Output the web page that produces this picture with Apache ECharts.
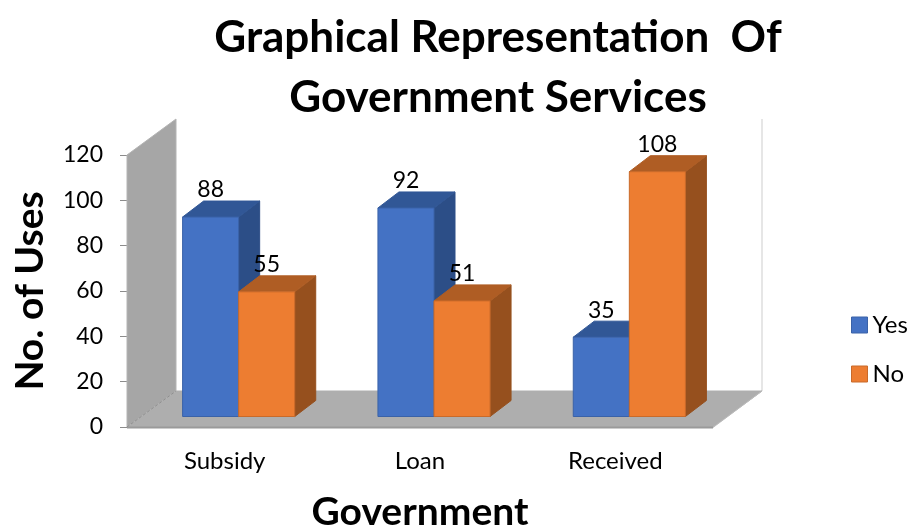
<!DOCTYPE html>
<html><head><meta charset="utf-8">
<style>html,body{margin:0;padding:0;background:#fff}#c{width:923px;height:526px}</style>
<script src="https://cdn.jsdelivr.net/npm/echarts@6/dist/echarts.min.js"></script>
</head><body><div id="c"></div>
<script>
const categories = ['Subsidy', 'Loan', 'Received'];
const yesValues = [88, 92, 35];
const noValues = [55, 51, 108];
const yTicks = { min: 0, max: 120, interval: 20 };
const FONT = 'Lato';
// 3D projection of the box: total depth, margin of bars from front, bar depth
const DEPTH = { x: 49, y: -36 };
const BAR_OFF = { x: 14, y: -10.5 };
const BAR_DEPTH = { x: 21, y: -16 };
const BAR_W_RATIO = 0.287;

function poly(points, fill, stroke, lw) {
  return { type: 'polygon', shape: { points }, style: { fill, stroke: stroke || fill, lineWidth: lw === undefined ? 1 : lw } };
}
function renderBox(params, api) {
  const cs = params.coordSys;
  const l = cs.x, r = cs.x + cs.width, t = cs.y, b = cs.y + cs.height;
  const dx = DEPTH.x, dy = DEPTH.y;
  return { type: 'group', children: [
    { type: 'line', shape: { x1: r + dx, y1: t + dy, x2: r + dx, y2: b + dy }, style: { stroke: '#E6E6E6', lineWidth: 2 } },
    poly([[l, b], [l + dx, b + dy], [r + dx, b + dy], [r, b]], '#AEAEAE', '#AEAEAE'),
    { type: 'line', shape: { x1: l, y1: b + 0.5, x2: r, y2: b + 0.5 }, style: { stroke: '#9A9A9A', lineWidth: 2 } },
    { type: 'line', shape: { x1: r, y1: b + 0.5, x2: r + dx, y2: b + dy }, style: { stroke: '#BDBDBD', lineWidth: 1 } },
    poly([[l, t], [l + dx, t + dy], [l + dx, b + dy], [l, b]], '#A6A6A6', '#B4B4B4'),
    { type: 'line', shape: { x1: l, y1: b, x2: l + dx, y2: b + dy }, style: { stroke: '#8E8E8E', lineWidth: 1, lineDash: [3, 2] } }
  ] };
}
function makeRender(side, colors) {
  return function (params, api) {
    const cat = api.value(0), val = api.value(1);
    const base = api.coord([cat, 0]);
    const top = api.coord([cat, val]);
    const w = api.size([1, 0])[0] * BAR_W_RATIO;
    const x0 = base[0] + BAR_OFF.x + (side === 0 ? -w : 0);
    const x1 = x0 + w;
    const yb = base[1] + BAR_OFF.y, yt = top[1] + BAR_OFF.y;
    const ddx = BAR_DEPTH.x, ddy = BAR_DEPTH.y;
    return { type: 'group', children: [
      poly([[x1, yt], [x1 + ddx, yt + ddy], [x1 + ddx, yb + ddy], [x1, yb]], colors.side, colors.side),
      poly([[x0, yt], [x0 + ddx, yt + ddy], [x1 + ddx, yt + ddy], [x1, yt]], colors.top, colors.top),
      { type: 'rect', shape: { x: x0, y: yt, width: w, height: yb - yt }, style: { fill: colors.front, stroke: colors.edge, lineWidth: 1 } },
      { type: 'text', style: { text: String(val), x: (x0 + x1) / 2, y: yt + ddy - 11, align: 'center', verticalAlign: 'middle', fill: '#000', font: '23px ' + FONT } }
    ] };
  };
}
const yesColors = { front: '#4472C4', side: '#2C4E87', top: '#315796', edge: '#3A62A8' };
const noColors = { front: '#ED7D31', side: '#96501E', top: '#AF5D24', edge: '#C96A2A' };

const chart = echarts.init(document.getElementById('c'), null, { renderer: 'canvas' });
chart.setOption({
  animation: false,
  backgroundColor: '#fff',
  textStyle: { fontFamily: FONT },
  title: {
    text: 'Graphical Representation  Of\nGovernment Services',
    left: 493, top: 3, textAlign: 'center',
    textStyle: { fontFamily: FONT, fontWeight: 'bold', fontSize: 44, lineHeight: 60, color: '#000' }
  },
  legend: {
    data: [
      { name: 'Yes', icon: 'rect', itemStyle: { color: '#4472C4', borderColor: '#3A62A8', borderWidth: 1 } },
      { name: 'No', icon: 'rect', itemStyle: { color: '#ED7D31', borderColor: '#C96A2A', borderWidth: 1 } }
    ],
    orient: 'vertical', left: 851, top: 313,
    itemWidth: 16, itemHeight: 16, itemGap: 25, padding: 0,
    textStyle: { fontFamily: FONT, fontSize: 24, color: '#000', padding: [0, 0, 0, 0] }
  },
  grid: { left: 127, top: 155, width: 586, height: 272, outerBoundsMode: 'none', containLabel: false },
  xAxis: {
    type: 'category', data: categories,
    axisLine: { show: false }, axisTick: { show: false },
    axisLabel: { fontFamily: FONT, fontSize: 24, color: '#000', margin: 22 },
    name: 'Government', nameLocation: 'middle', nameGap: 66,
    nameTextStyle: { fontFamily: FONT, fontWeight: 'bold', fontSize: 39, color: '#000' }
  },
  yAxis: {
    type: 'value', min: yTicks.min, max: yTicks.max, interval: yTicks.interval,
    axisLine: { show: false },
    axisTick: { show: true, length: 7, lineStyle: { color: '#8C8C8C' } },
    splitLine: { show: false },
    axisLabel: { fontFamily: FONT, fontSize: 23, color: '#000', margin: 24 },
    name: 'No. of Uses', nameLocation: 'middle', nameGap: 77, nameRotate: 90,
    nameTextStyle: { fontFamily: FONT, fontWeight: 'bold', fontSize: 39, color: '#000' }
  },
  series: [
    { type: 'custom', name: 'box', silent: true, clip: false, data: [[0, 0]], renderItem: renderBox, encode: { x: 0, y: 1 }, z: 1 },
    { type: 'custom', name: 'Yes', clip: false, itemStyle: { color: '#4472C4' }, data: yesValues.map((v, i) => [i, v]), renderItem: makeRender(0, yesColors), encode: { x: 0, y: 1 }, z: 2 },
    { type: 'custom', name: 'No', clip: false, itemStyle: { color: '#ED7D31' }, data: noValues.map((v, i) => [i, v]), renderItem: makeRender(1, noColors), encode: { x: 0, y: 1 }, z: 3 }
  ]
});
</script></body></html>
